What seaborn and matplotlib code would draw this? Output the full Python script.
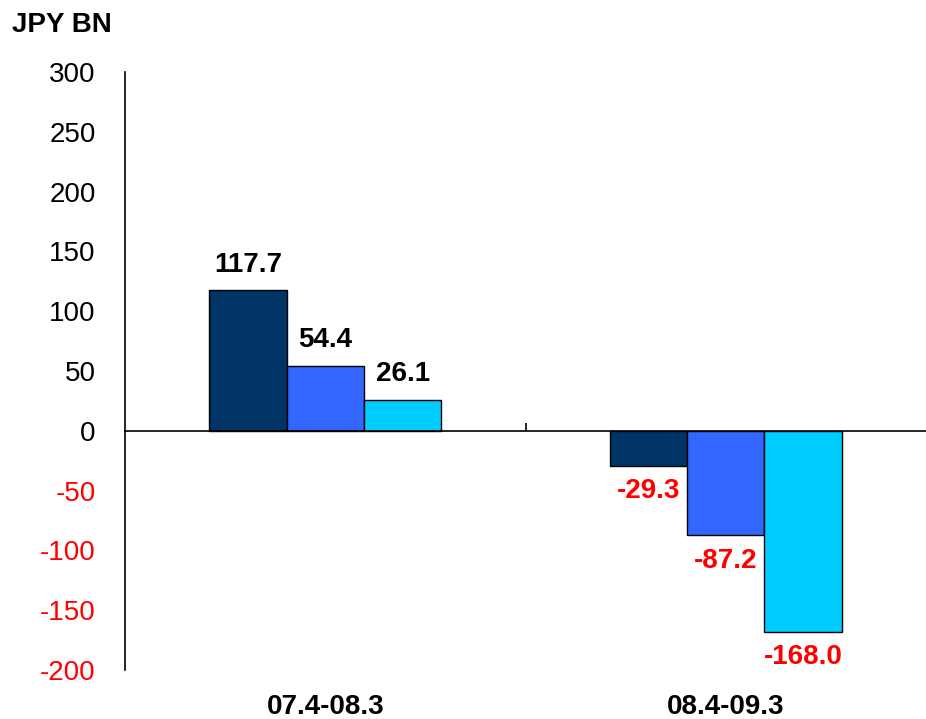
import pandas as pd
import matplotlib.pyplot as plt
import matplotlib.transforms as mtransforms
import seaborn as sns

periods = ["07.4-08.3", "08.4-09.3"]
series = ["Series 1", "Series 2", "Series 3"]
values_s1 = [117.7, -29.3]
values_s2 = [54.4, -87.2]
values_s3 = [26.1, -168.0]
yticks = [300, 250, 200, 150, 100, 50, 0, -50, -100, -150, -200]

colors = ["#003366", "#3366FF", "#00CCFF"]

rows = []
for name, vals in zip(series, [values_s1, values_s2, values_s3]):
    for p, v in zip(periods, vals):
        rows.append({"Period": p, "Series": name, "Value": v})
df = pd.DataFrame(rows)

sns.set_style("white")
plt.rcParams["font.family"] = ["Liberation Sans", "DejaVu Sans"]
plt.rcParams["text.color"] = "black"
plt.rcParams["xtick.color"] = "black"
plt.rcParams["ytick.color"] = "black"

fig = plt.figure(figsize=(9.26, 7.19), dpi=100)
ax = fig.add_axes([125 / 926, 49 / 719, 801 / 926, 598 / 719])

sns.barplot(
    data=df,
    x="Period",
    y="Value",
    hue="Series",
    order=periods,
    hue_order=series,
    palette=colors,
    width=0.58,
    saturation=1,
    edgecolor="black",
    linewidth=1,
    legend=False,
    ax=ax,
)

for container in ax.containers:
    labels = ax.bar_label(container, fmt="%.1f", padding=9,
                          fontsize=20, fontweight="bold")
    for bar, txt in zip(container, labels):
        txt.set_color("red" if bar.get_height() < 0 else "black")
        txt.set_x(txt.get_position()[0])

ax.set_xlim(-0.5, 1.5)
ax.set_ylim(-200, 300)
ax.set_yticks(yticks)
ax.set_yticklabels([str(t) for t in yticks], fontsize=20)
for lab, t in zip(ax.get_yticklabels(), yticks):
    lab.set_color("red" if t < 0 else "black")
ax.tick_params(axis="y", left=False, length=0, pad=21)

# x axis sits on zero, one tick between the two groups
ax.spines["bottom"].set_position(("data", 0))
ax.spines["top"].set_visible(False)
ax.spines["right"].set_visible(False)
for s in ["left", "bottom"]:
    ax.spines[s].set_color("black")
    ax.spines[s].set_linewidth(1.2)
ax.set_xticks([0.5])
ax.set_xticklabels([""])
ax.tick_params(axis="x", bottom=True, direction="in", length=6, width=1.2,
               color="black")

trans = mtransforms.blended_transform_factory(ax.transData, ax.transAxes)
for i, p in enumerate(periods):
    ax.text(i, -0.062, p, transform=trans, ha="center", va="center",
            fontsize=20, fontweight="bold", color="black")

ax.set_xlabel("")
ax.set_ylabel("")
fig.text(12 / 926, 1 - 25 / 719, "JPY BN", ha="left", va="center",
         fontsize=20, fontweight="bold", color="black")

fig.savefig("out.png", dpi=100)
